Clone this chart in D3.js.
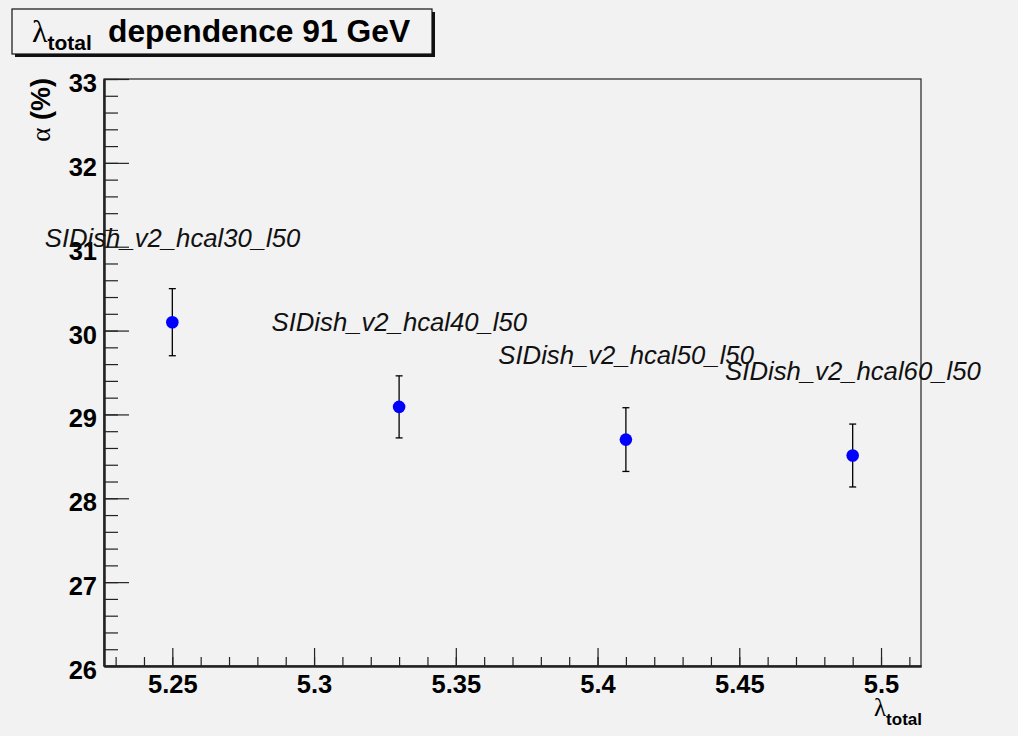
<!DOCTYPE html>
<html>
<head>
<meta charset="utf-8">
<script src="https://cdn.jsdelivr.net/npm/d3@7"></script>
<style>
  html, body { margin: 0; padding: 0; background: #f2f2f2; }
  svg { display: block; }
</style>
</head>
<body>
<svg id="chart" width="1018" height="736"></svg>
<script>
// Hadronic calorimeter depth scan at 91 GeV
const lambdaTotal = [5.25, 5.33, 5.41, 5.49];
const alphaValues = [30.10, 29.09, 28.70, 28.51];
const alphaErrors = [0.40, 0.37, 0.38, 0.375];
const pointLabels = ["SIDish_v2_hcal30_l50", "SIDish_v2_hcal40_l50", "SIDish_v2_hcal50_l50", "SIDish_v2_hcal60_l50"];
const xTickValues = [5.25, 5.3, 5.35, 5.4, 5.45, 5.5];
const xTickLabels = ["5.25", "5.3", "5.35", "5.4", "5.45", "5.5"];
const yTickValues = [26, 27, 28, 29, 30, 31, 32, 33];
const yTickLabels = ["26", "27", "28", "29", "30", "31", "32", "33"];

// label anchor offset from each point, in axis units
const labelShiftX = -0.045;
const labelShiftY = 0.9;

const svg = d3.select("#chart");
const W = 1018, H = 736;
const frame = { left: 104, right: 921, top: 79, bottom: 666 };

svg.append("rect").attr("width", W).attr("height", H).attr("fill", "#f2f2f2");

const x = d3.scaleLinear().domain([5.2259, 5.5141]).range([frame.left, frame.right]);
const y = d3.scaleLinear().domain([26, 33]).range([frame.bottom, frame.top]);

const sans = "'Liberation Sans', Arial, Helvetica, sans-serif";
const serif = "'Liberation Serif', 'Times New Roman', serif";

// frame
svg.append("rect")
  .attr("x", frame.left).attr("y", frame.top)
  .attr("width", frame.right - frame.left).attr("height", frame.bottom - frame.top)
  .attr("fill", "none").attr("stroke", "#222").attr("stroke-width", 1.2);

// minor ticks
const xMinor = d3.range(523, 552).map(v => v / 100).filter(v => x(v) >= frame.left && x(v) <= frame.right);
const yMinor = d3.range(130, 166).map(v => v / 5);

const xMinorAxis = d3.axisBottom(x).tickValues(xMinor).tickSize(-9).tickSizeOuter(0).tickFormat("");
const yMinorAxis = d3.axisLeft(y).tickValues(yMinor).tickSize(-14).tickSizeOuter(0).tickFormat("");

const gxm = svg.append("g").attr("transform", `translate(0,${frame.bottom})`).call(xMinorAxis);
const gym = svg.append("g").attr("transform", `translate(${frame.left},0)`).call(yMinorAxis);

// major ticks with labels
const xAxis = d3.axisBottom(x).tickValues(xTickValues).tickSize(-18).tickSizeOuter(0)
  .tickFormat((d, i) => xTickLabels[i]);
const yAxis = d3.axisLeft(y).tickValues(yTickValues).tickSize(-25).tickSizeOuter(0)
  .tickFormat((d, i) => yTickLabels[i]);

const gx = svg.append("g").attr("transform", `translate(0,${frame.bottom})`).call(xAxis);
const gy = svg.append("g").attr("transform", `translate(${frame.left},0)`).call(yAxis);

[gxm, gym, gx, gy].forEach(g => {
  g.select(".domain").attr("stroke", "#222").attr("stroke-width", 2);
  g.selectAll(".tick line").attr("stroke", "#222").attr("stroke-width", 1.2);
});

gx.selectAll(".tick text")
  .attr("y", 27).attr("dy", 0)
  .attr("font-family", sans).attr("font-weight", "bold").attr("font-size", 25.5)
  .attr("fill", "#000");
gy.selectAll(".tick text")
  .attr("x", -7).attr("dy", 12.5)
  .attr("font-family", sans).attr("font-weight", "bold").attr("font-size", 25.5)
  .attr("fill", "#000");

// y axis title
const yTitle = svg.append("text")
  .attr("transform", `translate(50,${frame.top - 1}) rotate(-90)`)
  .attr("text-anchor", "end")
  .attr("font-family", sans).attr("font-weight", "bold").attr("font-size", 27)
  .attr("fill", "#000");
yTitle.append("tspan").attr("font-family", serif).attr("font-weight", "normal").text("α");
yTitle.append("tspan").text(" (%)");

// x axis title
const xTitle = svg.append("text")
  .attr("x", frame.right + 1).attr("y", 716)
  .attr("text-anchor", "end")
  .attr("font-family", sans).attr("fill", "#000");
xTitle.append("tspan").attr("font-family", serif).attr("font-size", 25).text("λ");
xTitle.append("tspan").attr("font-weight", "bold").attr("font-size", 17).attr("dy", 9).text("total");

// error bars
const bars = svg.append("g").attr("stroke", "#000").attr("stroke-width", 1.3);
lambdaTotal.forEach((lx, i) => {
  const cx = x(lx);
  const y0 = y(alphaValues[i] - alphaErrors[i]);
  const y1 = y(alphaValues[i] + alphaErrors[i]);
  bars.append("line").attr("x1", cx).attr("x2", cx).attr("y1", y0).attr("y2", y1);
  bars.append("line").attr("x1", cx - 3.5).attr("x2", cx + 3.5).attr("y1", y0).attr("y2", y0);
  bars.append("line").attr("x1", cx - 3.5).attr("x2", cx + 3.5).attr("y1", y1).attr("y2", y1);
});

// markers
svg.append("g").selectAll("circle")
  .data(lambdaTotal)
  .join("circle")
  .attr("cx", d => x(d))
  .attr("cy", (d, i) => y(alphaValues[i]))
  .attr("r", 6.3)
  .attr("fill", "#0000ff");

// point labels
svg.append("g").selectAll("text")
  .data(pointLabels)
  .join("text")
  .attr("x", (d, i) => x(lambdaTotal[i] + labelShiftX))
  .attr("y", (d, i) => y(alphaValues[i] + labelShiftY))
  .attr("font-family", sans).attr("font-style", "italic").attr("font-size", 25.7)
  .attr("fill", "#111")
  .text(d => d);

// title box with shadow
svg.append("rect").attr("x", 15).attr("y", 12).attr("width", 420).attr("height", 45).attr("fill", "#111");
svg.append("rect").attr("x", 12).attr("y", 9).attr("width", 420).attr("height", 45)
  .attr("fill", "#f2f2f2").attr("stroke", "#111").attr("stroke-width", 1.2);

const title = svg.append("text").attr("x", 32).attr("y", 42).attr("font-family", sans).attr("fill", "#000");
title.append("tspan").attr("font-family", serif).attr("font-size", 32).text("λ");
title.append("tspan").attr("font-weight", "bold").attr("font-size", 21).attr("dy", 8).text("total");
title.append("tspan").attr("x", 108).attr("dy", -8).attr("font-weight", "bold").attr("font-size", 31.8).text("dependence 91 GeV");
</script>
</body>
</html>
